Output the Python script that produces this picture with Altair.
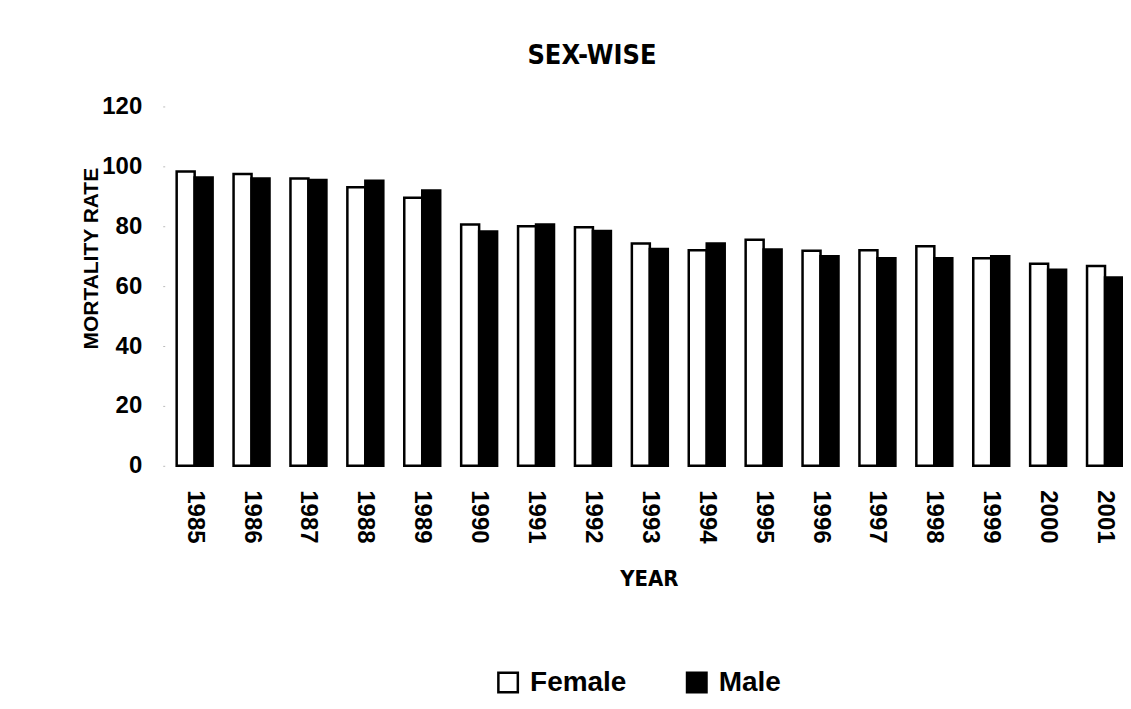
import altair as alt
import pandas as pd

years = [str(y) for y in range(1985, 2002)]
female = [98.3, 97.4, 95.9, 93.0, 89.5, 80.6, 80.0, 79.7, 74.2, 72.0, 75.5, 71.8, 72.0, 73.3, 69.3, 67.5, 66.7]
male = [96.3, 95.9, 95.4, 95.2, 91.9, 78.2, 80.6, 78.4, 72.4, 74.2, 72.2, 70.0, 69.3, 69.3, 70.0, 65.5, 62.9]
series = ["Female", "Male"]

rows = []
for i, y in enumerate(years):
    rows.append({"year": y, "sex": "Female", "rate": female[i]})
    rows.append({"year": y, "sex": "Male", "rate": male[i]})
df = pd.DataFrame(rows)

narrow = "Liberation Sans Narrow, DejaVu Sans Condensed, Arial Narrow, sans-serif"
arial = "Liberation Sans, Arial, Helvetica, sans-serif"

chart = alt.Chart(df).mark_bar(stroke="black", strokeWidth=2.5).encode(
    x=alt.X("year:N", sort=years,
            scale=alt.Scale(paddingInner=0.368, paddingOuter=0.105, align=1),
            axis=alt.Axis(title="YEAR", labelAngle=90, labelAlign="left", labelBaseline="middle",
                          labelFont=arial, labelFontSize=24, labelFontWeight="bold", labelColor="black",
                          labelPadding=24, ticks=False, domain=False,
                          titleFont=narrow, titleFontSize=22, titleFontWeight="bold", titleColor="black",
                          titlePadding=26, titleX=485, titleAlign="center")),
    xOffset=alt.XOffset("sex:N", sort=series, scale=alt.Scale(paddingInner=0, paddingOuter=0)),
    y=alt.Y("rate:Q", scale=alt.Scale(domain=[0, 120], nice=False),
            axis=alt.Axis(title="MORTALITY RATE", values=[0, 20, 40, 60, 80, 100, 120],
                          grid=False, domain=False, ticks=True, tickSize=2, tickColor="#bbbbbb",
                          labelFont=arial, labelFontSize=24, labelFontWeight="bold", labelColor="black",
                          labelPadding=21,
                          titleFont=arial, titleFontSize=21, titleFontWeight="bold", titleColor="black",
                          titleAngle=270, titleX=-73, titleY=152, titleAlign="center",
                          titleBaseline="middle")),
    color=alt.Color("sex:N", sort=series,
                    scale=alt.Scale(domain=series, range=["white", "black"]),
                    legend=alt.Legend(title=None, orient="none", legendX=330, legendY=563,
                                      direction="horizontal", symbolType="square", symbolSize=380,
                                      symbolStrokeColor="black", symbolStrokeWidth=2.5,
                                      labelFont=arial, labelFontSize=28, labelFontWeight="bold",
                                      labelColor="black", labelOffset=8, columnPadding=55,
                                      padding=0, labelLimit=300)),
).properties(
    width=960,
    height=360,
    title=alt.TitleParams("SEX-WISE", font=narrow, fontSize=27, fontWeight="bold", color="black",
                          anchor="middle", frame="group", dx=-52, offset=4, baseline="alphabetic"),
    autosize=alt.AutoSizeParams(type="none"),
    padding={"left": 157, "top": 98, "right": 0, "bottom": 234},
    background="white",
).configure_view(stroke=None)

chart.save("out.html", embed_options={"renderer": "svg", "actions": False})
